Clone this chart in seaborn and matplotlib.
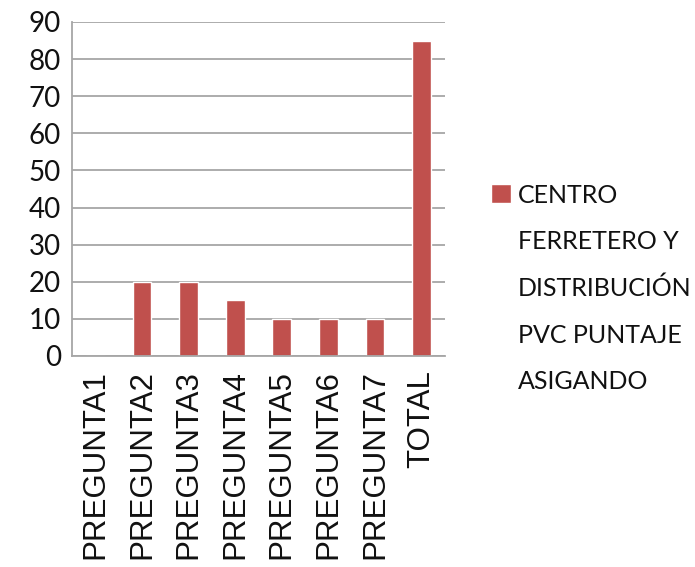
import matplotlib
matplotlib.use("Agg")
import matplotlib.pyplot as plt
import seaborn as sns
import pandas as pd

categories = ["PREGUNTA1", "PREGUNTA2", "PREGUNTA3", "PREGUNTA4",
              "PREGUNTA5", "PREGUNTA6", "PREGUNTA7", "TOTAL"]
values = [0, 20, 20, 15, 10, 10, 10, 85]
series_name = "CENTRO\nFERRETERO Y\nDISTRIBUCIÓN\nPVC PUNTAJE\nASIGANDO"
yticks = [0, 10, 20, 30, 40, 50, 60, 70, 80, 90]

sns.set_theme(style="white")
plt.rcParams['font.family'] = ["Liberation Sans", "DejaVu Sans"]
plt.rcParams['text.color'] = "#111111"

df = pd.DataFrame({"cat": categories, "val": values, "serie": series_name})

fig = plt.figure(figsize=(6.95, 5.67), dpi=100)
ax = fig.add_axes([72/695, 1-356/567, (445-72)/695, (356-22)/567])
sns.barplot(data=df, x="cat", y="val", hue="serie", palette=["#C0504D"],
            width=0.4, ax=ax, saturation=1)

ax.set_ylim(0, 90)
ax.set_xlim(-0.5, 7.5)
ax.set_yticks(yticks)
ax.set_yticklabels([str(t) for t in yticks], fontsize=20, family=["Lato", "DejaVu Sans"],
                   color="#111111")
ax.set_xticks(range(len(categories)))
ax.set_xticklabels(categories, rotation=90, fontsize=22.5,
                   family=["Liberation Sans", "DejaVu Sans"], color="#111111")
ax.set_xlabel("")
ax.set_ylabel("")
ax.yaxis.grid(True, color="#A6A6A6", linewidth=1.3)
ax.set_axisbelow(True)
for s in ["top", "right"]:
    ax.spines[s].set_visible(False)
for s in ["left", "bottom"]:
    ax.spines[s].set_color("#A6A6A6")
    ax.spines[s].set_linewidth(1.3)
ax.tick_params(axis="both", length=0)
ax.tick_params(axis="y", pad=8)
ax.tick_params(axis="x", pad=10)

leg = ax.legend(loc="upper left", bbox_to_anchor=(491/695, 1-184/567),
                bbox_transform=fig.transFigure, borderpad=0, borderaxespad=0,
                frameon=False, handlelength=0.78, handleheight=0.78,
                handletextpad=0.3,
                prop={"family": ["Lato", "DejaVu Sans"], "size": 18})
for t in leg.get_texts():
    t.set_linespacing(2.22)
    t.set_color("#111111")
# align the colour square with the first line of the label
for col in leg._legend_handle_box.get_children():
    for row in col.get_children():
        row.align = "top"

fig.savefig("out.png", dpi=100)
